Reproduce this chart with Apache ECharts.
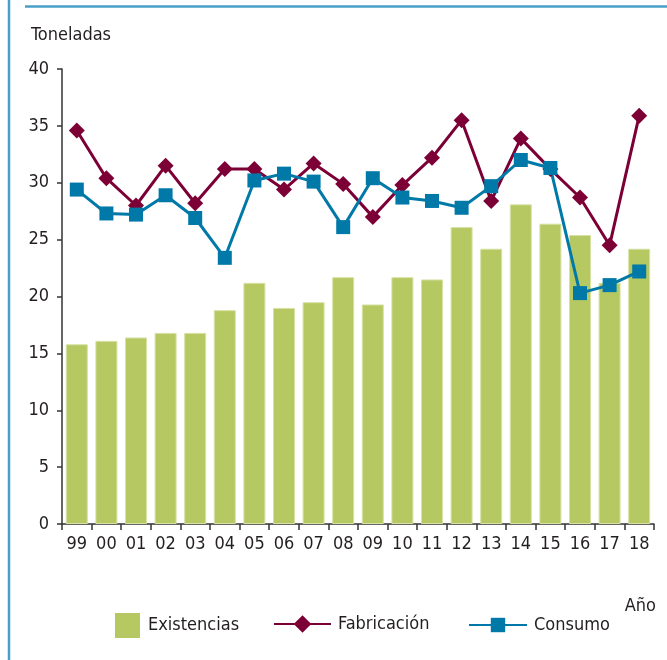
<!DOCTYPE html>
<html>
<head>
<meta charset="utf-8">
<script src="https://cdn.jsdelivr.net/npm/echarts@6/dist/echarts.min.js"></script>
<style>
html,body{margin:0;padding:0;background:#fff;}
#chart{width:667px;height:660px;}
</style>
</head>
<body>
<div id="chart"></div>
<script>
var categories = ['99','00','01','02','03','04','05','06','07','08','09','10','11','12','13','14','15','16','17','18'];
var existencias = [15.8,16.1,16.4,16.8,16.8,18.8,21.2,19.0,19.5,21.7,19.3,21.7,21.5,26.1,24.2,28.1,26.4,25.4,21.2,24.2];
var fabricacion = [34.6,30.4,28.0,31.5,28.2,31.2,31.2,29.4,31.7,29.9,27.0,29.8,32.2,35.5,28.4,33.9,31.2,28.7,24.5,35.9];
var consumo = [29.4,27.3,27.2,28.9,26.9,23.4,30.2,30.8,30.1,26.1,30.4,28.7,28.4,27.8,29.7,32.0,31.3,20.3,21.0,22.2];
var yTicks = [0,5,10,15,20,25,30,35,40];

var FONT = "'DejaVu Sans Condensed','Liberation Sans Narrow',sans-serif";
var FS = 18;
var TXT = '#231f20';
var chart = echarts.init(document.getElementById('chart'));
chart.setOption({
  animation: false,
  backgroundColor: '#ffffff',
  textStyle: {fontFamily: FONT},
  grid: {left: 62, right: 13, top: 69, bottom: 136},
  graphic: [
    {type: 'line', shape: {x1: 9, y1: 0, x2: 9, y2: 660}, style: {stroke: '#4a9fc8', lineWidth: 2.5}},
    {type: 'line', shape: {x1: 25, y1: 6.5, x2: 667, y2: 6.5}, style: {stroke: '#4a9fc8', lineWidth: 2.5}},
    {type: 'text', left: 31, top: 26, style: {text: 'Toneladas', font: FS + 'px ' + FONT, fill: TXT}},
    {type: 'text', right: 11, top: 597, style: {text: 'Año', font: FS + 'px ' + FONT, fill: TXT}}
  ],
  legend: [
    {data: [{name: 'Existencias', icon: 'rect'}], left: 115, top: 613, padding: 0, itemWidth: 25, itemHeight: 25, itemGap: 0,
     itemStyle: {borderWidth: 0},
     textStyle: {fontSize: FS, color: TXT, fontFamily: FONT, padding: [0,0,0,3]}},
    {data: ['Fabricación'], left: 273, top: 615, padding: 0, itemWidth: 57, itemHeight: 22, itemGap: 0,
     textStyle: {fontSize: FS, color: TXT, fontFamily: FONT, padding: [0,0,0,2]}},
    {data: ['Consumo'], left: 468, top: 616, padding: 0, itemWidth: 58, itemHeight: 18, itemGap: 0,
     textStyle: {fontSize: FS, color: TXT, fontFamily: FONT, padding: [0,0,0,2]}}
  ],
  xAxis: {
    type: 'category',
    data: categories,
    axisLine: {lineStyle: {color: '#333', width: 1.5}},
    axisTick: {show: true, length: 6, lineStyle: {color: '#333', width: 1.5}},
    axisLabel: {fontSize: FS, color: TXT, margin: 11, interval: 0, fontFamily: FONT}
  },
  yAxis: {
    type: 'value',
    min: yTicks[0], max: yTicks[yTicks.length-1], interval: 5,
    splitLine: {show: false},
    axisLine: {show: true, lineStyle: {color: '#333', width: 1.5}},
    axisTick: {show: true, length: 5, lineStyle: {color: '#333', width: 1.5}},
    axisLabel: {fontSize: FS, color: TXT, margin: 13, fontFamily: FONT}
  },
  series: [
    {name: 'Existencias', type: 'bar', data: existencias, barWidth: 22,
     itemStyle: {color: '#b5c862', borderColor: '#d8e1a4', borderWidth: 1}},
    {name: 'Fabricación', type: 'line', data: fabricacion, symbol: 'diamond', symbolSize: 16,
     lineStyle: {color: '#7c0036', width: 3}, itemStyle: {color: '#7c0036'}},
    {name: 'Consumo', type: 'line', data: consumo, symbol: 'rect', symbolSize: 14,
     lineStyle: {color: '#0079a8', width: 3}, itemStyle: {color: '#0079a8'}}
  ]
});
</script>
</body>
</html>
